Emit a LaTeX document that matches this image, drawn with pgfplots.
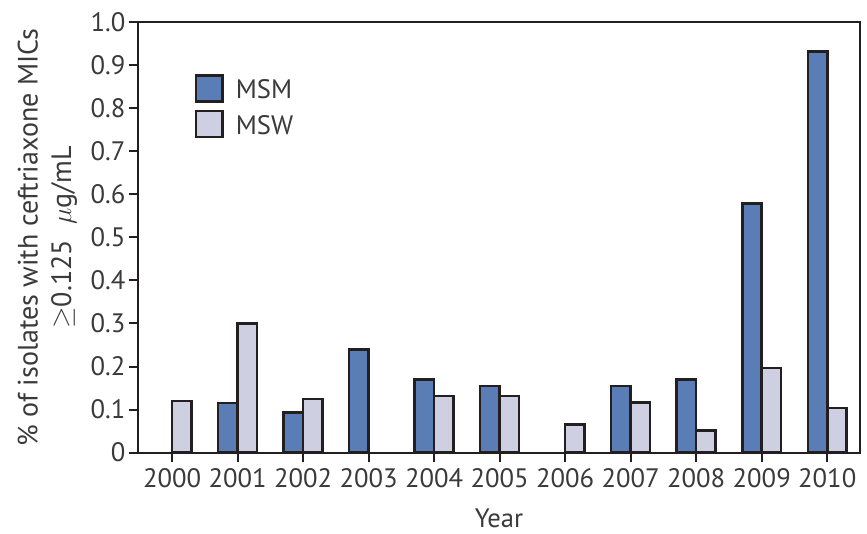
\documentclass[border=0pt]{standalone}
\usepackage{fontspec}
\setmainfont{PT Sans}
\usepackage{pgfplots}
\usepackage{pgfplotstable}
\pgfplotsset{compat=1.18}

\definecolor{msm}{HTML}{5A7DB5}
\definecolor{msw}{HTML}{CED0E2}
\definecolor{edge}{HTML}{231F20}
\definecolor{txt}{HTML}{3A3A3A}

% Share of isolates with elevated ceftriaxone MICs, by year (index 0 = 2000)
\pgfplotstableread{
idx msm   msw
0   nan   0.12
1   0.115 0.30
2   0.093 0.125
3   0.24  nan
4   0.17  0.132
5   0.155 0.132
6   nan   0.066
7   0.155 0.116
8   0.17  0.052
9   0.578 0.197
10  0.932 0.104
}\ratedata

\begin{document}
\begin{tikzpicture}
\begin{axis}[
  name=ax,
  scale only axis,
  width=541.5pt, height=323pt,
  xmin=-0.52, xmax=10.5,
  ymin=0, ymax=1,
  ybar=0pt,
  bar width=14.6pt,
  xtick={0,1,2,3,4,5,6,7,8,9,10},
  xticklabels={2000,2001,2002,2003,2004,2005,2006,2007,2008,2009,2010},
  ytick={0,0.1,0.2,0.3,0.4,0.5,0.6,0.7,0.8,0.9,1.0},
  yticklabels={0,0.1,0.2,0.3,0.4,0.5,0.6,0.7,0.8,0.9,1.0},
  tick align=outside,
  xtick pos=bottom, ytick pos=left,
  major tick length=7pt,
  tick style={line width=1.5pt, color=edge},
  axis line style={line width=1.5pt, color=edge},
  every tick label/.append style={font=\fontsize{20}{22}\selectfont, text=txt},
  xticklabel shift=1pt,
  yticklabel shift=-1pt,
  xlabel={Year},
  xlabel style={font=\fontsize{20}{22}\selectfont, at={(rel axis cs:0.5,0)}, anchor=center, yshift=-49pt},
  ylabel={\% of isolates with ceftriaxone MICs\\$\geq$0.125\hspace{0.55em}$\mu$g/mL},
  ylabel style={font=\fontsize{21}{25}\selectfont, align=center, at={(rel axis cs:0,0.5)}, anchor=center, yshift=68pt},
  label style={text=txt},
  legend style={draw=none, fill=none, at={(rel axis cs:0.078,0.88)}, anchor=north west,
    inner sep=0pt, row sep=5pt, font=\fontsize{20}{22}\selectfont, text=txt},
  legend cell align=left,
  legend image code/.code={%
    \draw[#1,/tikz/.cd,line width=2pt] (0pt,-8.5pt) rectangle (20pt,11pt);
    \path (27pt,0pt);},
]
\addplot[fill=msm, draw=edge, line width=1.9pt] table[x=idx, y=msm] {\ratedata};
\addplot[fill=msw, draw=edge, line width=1.9pt] table[x=idx, y=msw] {\ratedata};
\legend{MSM, MSW}
\end{axis}
\pgfresetboundingbox
\path[use as bounding box] ([xshift=-103.5pt,yshift=-60.75pt]ax.south west) rectangle ([xshift=5.25pt,yshift=16.5pt]ax.north east);
\end{tikzpicture}
\end{document}
